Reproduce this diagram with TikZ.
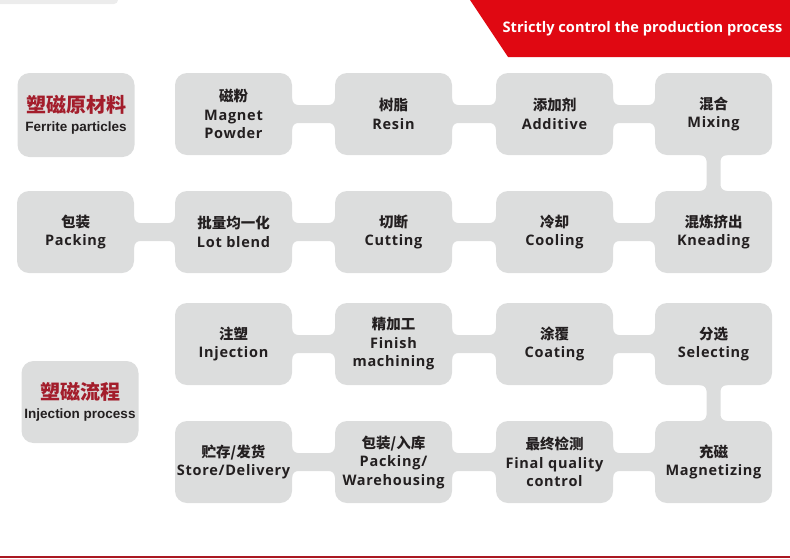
\documentclass[tikz,border=0pt]{standalone}
\usepackage{fontspec}
\setmainfont{Open Sans}[LetterSpace=5]
\newfontfamily\bannerfont{Open Sans}
\newfontfamily\cjk{Noto Sans CJK SC}
\newfontfamily\headfont{Liberation Sans}
\usepackage{tikz}
\usetikzlibrary{positioning, backgrounds, calc}
\definecolor{BoxGray}{RGB}{220,221,221}
\definecolor{StripGray}{RGB}{236,236,236}
\definecolor{TextDark}{RGB}{35,31,32}
\definecolor{TitleRed}{RGB}{163,29,43}
\definecolor{BannerRed}{RGB}{224,8,18}
\definecolor{LineRed}{RGB}{170,24,34}
\newcommand{\zh}[1]{{\cjk\fontsize{14.5}{18}\selectfont #1}}
\newcommand{\zhhead}[1]{{\color{TitleRed}\cjk\bfseries\fontsize{20}{22}\selectfont #1}}
\newcommand{\enhead}[1]{{\headfont\bfseries\fontsize{13.5}{16}\selectfont #1}}
% horizontal and vertical bars with small fillets
\newcommand{\hlink}[2]{%
  \fill[BoxGray, rounded corners=6pt]
    ([shift={(-8,-21)}]#1.east) -- ([shift={(0,-21)}]#1.east) -- ([shift={(0,-9)}]#1.east)
    -- ([shift={(0,-9)}]#2.west) -- ([shift={(0,-21)}]#2.west) -- ([shift={(8,-21)}]#2.west)
    -- ([shift={(8,21)}]#2.west) -- ([shift={(0,21)}]#2.west) -- ([shift={(0,9)}]#2.west)
    -- ([shift={(0,9)}]#1.east) -- ([shift={(0,21)}]#1.east) -- ([shift={(-8,21)}]#1.east) -- cycle;}
\newcommand{\vlink}[2]{%
  \fill[BoxGray, rounded corners=6pt]
    ([shift={(-19,-8)}]#1.south) -- ([shift={(-19,0)}]#1.south) -- ([shift={(-7,0)}]#1.south)
    -- ([shift={(-7,0)}]#2.north) -- ([shift={(-19,0)}]#2.north) -- ([shift={(-19,8)}]#2.north)
    -- ([shift={(19,8)}]#2.north) -- ([shift={(19,0)}]#2.north) -- ([shift={(7,0)}]#2.north)
    -- ([shift={(7,0)}]#1.south) -- ([shift={(19,0)}]#1.south) -- ([shift={(19,-8)}]#1.south) -- cycle;}
\tikzset{
  stepbox/.style={
    rectangle, rounded corners=12pt,
    minimum width=117pt, minimum height=82pt, inner sep=0pt,
    fill=BoxGray, text=TextDark, align=center,
    font=\bfseries\fontsize{14.5}{18.5}\selectfont
  },
  headbox/.style={stepbox, minimum height=84pt},
  banner/.style={text=white, font=\bannerfont\bfseries\fontsize{14.6}{16}\selectfont}
}

\begin{document}
\begin{tikzpicture}[x=1pt, y=-1pt]
  \useasboundingbox (0,0) rectangle (790,558);

  \fill[StripGray, rounded corners=4pt] (-10,-10) rectangle (118,4);
  \fill[BannerRed] (470,0) -- (790,0) -- (790,57) -- (508,57) -- cycle;
  \node[banner] (title) at (642.5,29) {Strictly control the production process};
  \draw[LineRed, line width=2pt] (0,556.5) -- (790,556.5);

  % raw material line
  \node[headbox] (ferrite) at (76,115) {\zhhead{塑磁原材料}\\[1pt]\enhead{Ferrite particles}};
  \node[stepbox] (powder) at (233.5,114) {\zh{磁粉}\\Magnet\\Powder};
  \node[stepbox] (resin) at (393.5,114) {\zh{树脂}\\Resin};
  \node[stepbox] (additive) at (554.5,114) {\zh{添加剂}\\Additive};
  \node[stepbox] (mixing) at (713.5,114) {\zh{混合}\\Mixing};

  \node[stepbox] (kneading) at (713.5,232) {\zh{混炼挤出}\\Kneading};
  \node[stepbox] (cooling) at (554.5,232) {\zh{冷却}\\Cooling};
  \node[stepbox] (cutting) at (393.5,232) {\zh{切断}\\Cutting};
  \node[stepbox] (lotblend) at (233.5,232) {\zh{批量均一化}\\Lot blend};
  \node[stepbox] (packing) at (75.5,232) {\zh{包装}\\Packing};

  % injection line
  \node[stepbox] (injhead) at (80,402) {\zhhead{塑磁流程}\\[1pt]\enhead{Injection process}};
  \node[stepbox] (injection) at (233.5,344) {\zh{注塑}\\Injection};
  \node[stepbox] (finish) at (393.5,344) {\zh{精加工}\\Finish\\machining};
  \node[stepbox] (coating) at (554.5,344) {\zh{涂覆}\\Coating};
  \node[stepbox] (selecting) at (713.5,344) {\zh{分选}\\Selecting};

  \node[stepbox] (magnetizing) at (713.5,462) {\zh{充磁}\\Magnetizing};
  \node[stepbox] (final) at (554.5,462) {\zh{最终检测}\\Final quality\\control};
  \node[stepbox] (warehouse) at (393.5,462) {\zh{包装/入库}\\Packing/\\Warehousing};
  \node[stepbox] (store) at (233.5,462) {\zh{贮存/发货}\\Store/Delivery};

  \begin{scope}[on background layer]
    \hlink{powder}{resin}
    \hlink{resin}{additive}
    \hlink{additive}{mixing}
    \vlink{mixing}{kneading}
    \hlink{cooling}{kneading}
    \hlink{cutting}{cooling}
    \hlink{lotblend}{cutting}
    \hlink{packing}{lotblend}
    \hlink{injection}{finish}
    \hlink{finish}{coating}
    \hlink{coating}{selecting}
    \vlink{selecting}{magnetizing}
    \hlink{final}{magnetizing}
    \hlink{warehouse}{final}
    \hlink{store}{warehouse}
  \end{scope}
\end{tikzpicture}
\end{document}
